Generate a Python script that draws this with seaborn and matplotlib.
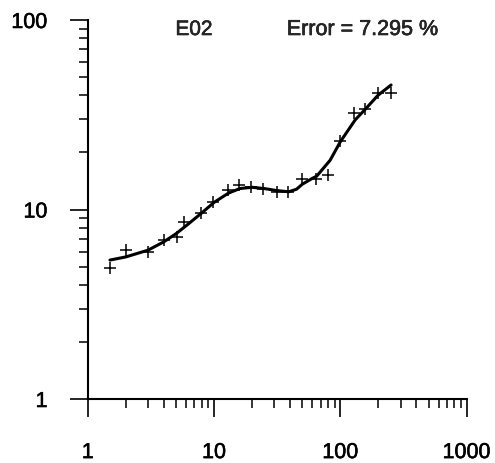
import matplotlib
matplotlib.use("Agg")
import matplotlib.pyplot as plt
import matplotlib.patheffects as pe
from matplotlib.ticker import NullFormatter, LogLocator
import seaborn as sns
import pandas as pd

# Measured points
meas_x = [1.5, 2.0, 3.0, 4.0, 5.1, 5.8, 7.9, 9.9, 12.8, 15.9, 19.6, 24.6,
          31.4, 38.7, 49.5, 64.2, 80.4, 99.5, 128, 157, 199, 253]
meas_y = [4.89, 6.11, 5.99, 6.90, 7.13, 8.62, 9.62, 11.0, 12.6, 13.5, 13.2, 12.9,
          12.4, 12.3, 14.4, 14.5, 15.2, 23.1, 32.5, 34.1, 41.2, 41.2]

# Fitted curve
fit_x = [1.5, 2.0, 3.0, 4.0, 5.0, 6.0, 8.0, 10, 13, 16, 20, 25, 31, 39, 45,
         50, 60, 65, 83, 100, 131, 160, 198, 252]
fit_y = [5.41, 5.62, 6.1, 6.75, 7.45, 8.2, 9.6, 10.9, 12.2, 12.9, 13.1, 12.9,
         12.6, 12.4, 12.8, 13.6, 14.6, 15.0, 18.2, 22.8, 29.7, 34.2, 40.0, 45.4]

x_ticks = [1, 10, 100, 1000]
y_ticks = [1, 10, 100]
series_name = "E02"
error_text = "Error = 7.295 %"

sns.set_style("ticks")
plt.rcParams["font.family"] = ["Liberation Sans", "DejaVu Sans"]

fig = plt.figure(figsize=(4.95, 4.63), dpi=100)
ax = fig.add_axes([0.1772, 0.1382, 0.9428 - 0.1772, 0.9568 - 0.1382])

fit_df = pd.DataFrame({"x": fit_x, "y": fit_y})
meas_df = pd.DataFrame({"x": meas_x, "y": meas_y})

sns.lineplot(data=fit_df, x="x", y="y", sort=False, color="black",
             linewidth=2.2, ax=ax)
sns.scatterplot(data=meas_df, x="x", y="y", marker="+", s=80, color="black",
                linewidth=1.1, ax=ax)

ax.set_xscale("log")
ax.set_yscale("log")
ax.set_xlim(1, 1000)
ax.set_ylim(1, 100)

ax.set_xticks(x_ticks, labels=[str(v) for v in x_ticks])
ax.set_yticks(y_ticks, labels=[str(v) for v in y_ticks])
ax.xaxis.set_minor_locator(LogLocator(base=10, subs=range(2, 10)))
ax.yaxis.set_minor_locator(LogLocator(base=10, subs=range(2, 10)))
ax.xaxis.set_minor_formatter(NullFormatter())
ax.yaxis.set_minor_formatter(NullFormatter())

ax.tick_params(which="major", direction="out", length=13, width=1.2,
               labelsize=15.5, color="black", labelcolor="black")
ax.tick_params(axis="x", which="major", pad=18)
ax.tick_params(axis="y", which="major", pad=16)
ax.tick_params(which="minor", direction="out", length=6.5, width=1.1,
               color="black")

for side in ("top", "right"):
    ax.spines[side].set_visible(False)
for side in ("left", "bottom"):
    ax.spines[side].set_linewidth(1.5)
    ax.spines[side].set_color("black")

ax.set_xlabel("")
ax.set_ylabel("")

# Slightly heavier lettering
heavy = [pe.withStroke(linewidth=0.4, foreground="black")]
for lbl in ax.get_xticklabels() + ax.get_yticklabels():
    lbl.set_path_effects(heavy)

fig.text(0.392, 0.9244, series_name, ha="center", va="baseline", fontsize=15,
         path_effects=heavy)
fig.text(0.732, 0.9244, error_text, ha="center", va="baseline", fontsize=15.5,
         path_effects=heavy)

fig.savefig("out.png", dpi=100)
